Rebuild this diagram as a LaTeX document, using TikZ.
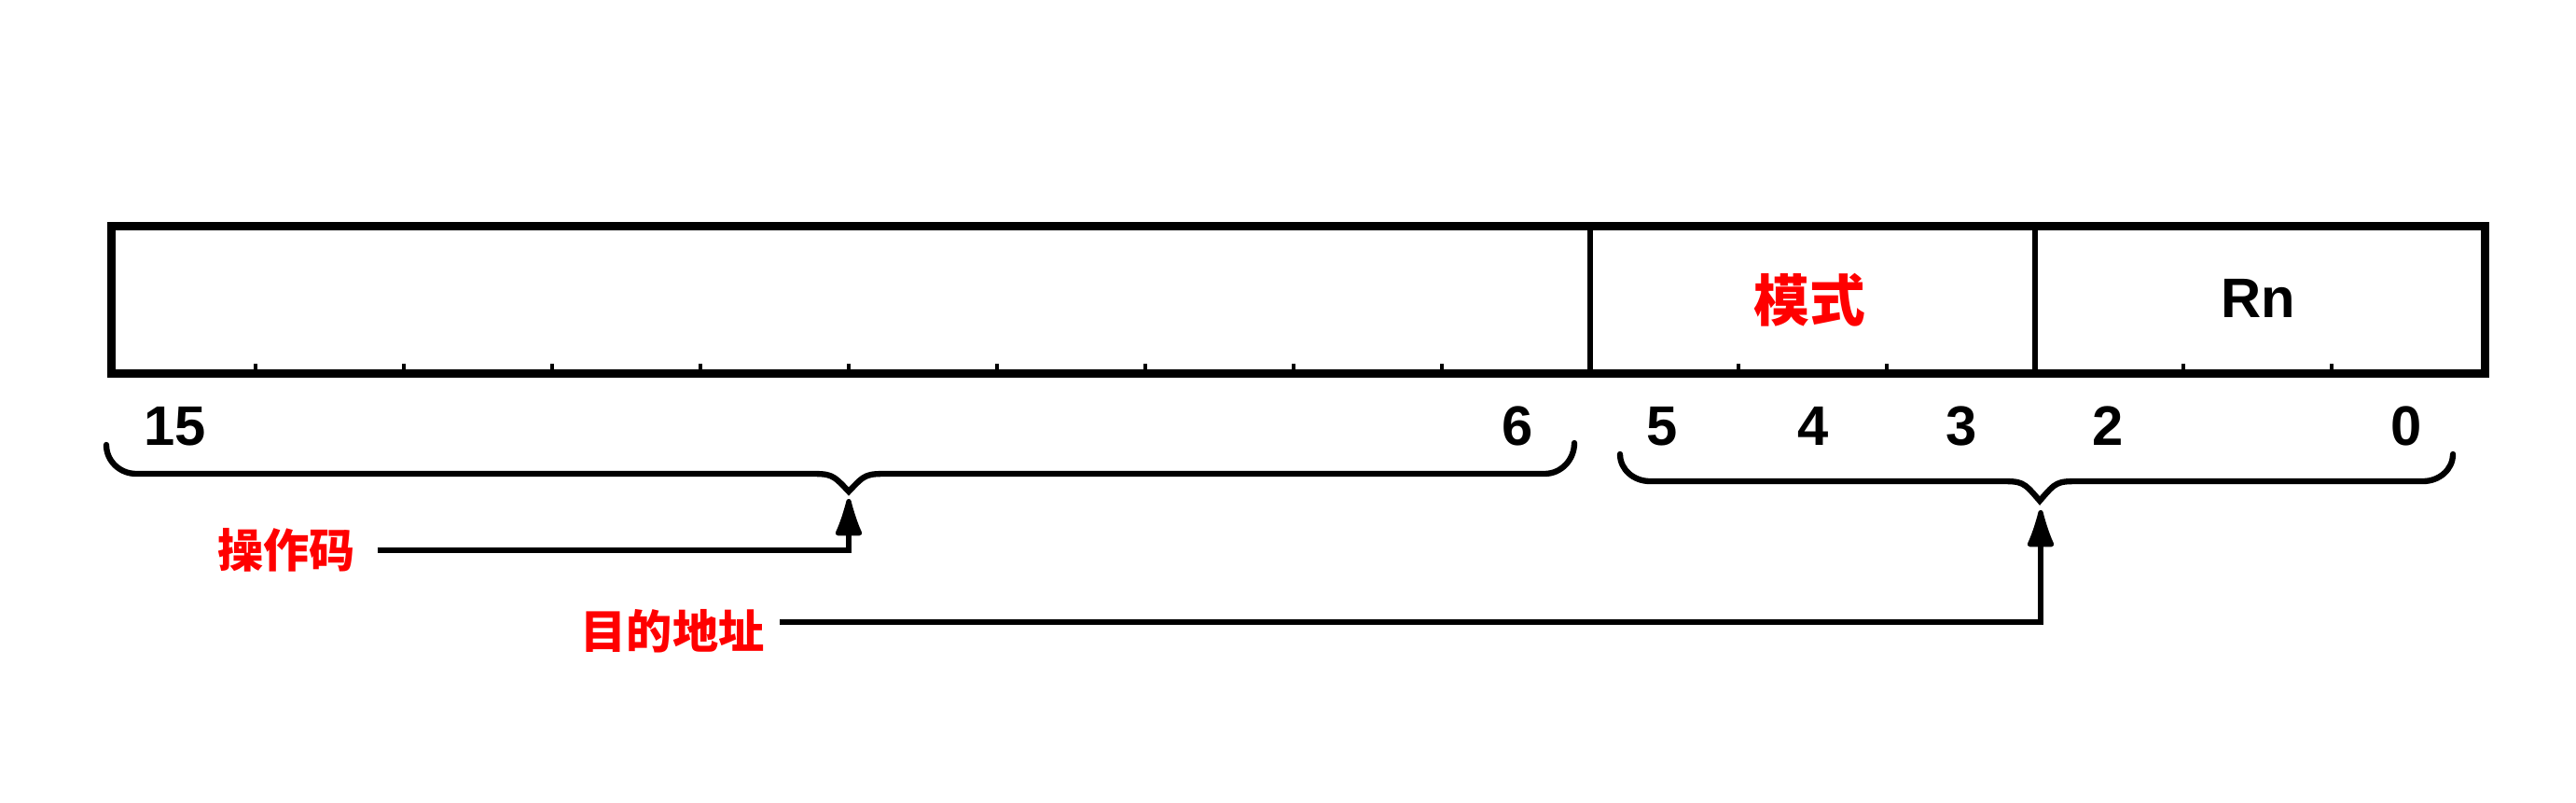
\documentclass[tikz,border=0pt]{standalone}
\usepackage{fontspec}
\setmainfont{Liberation Sans}
\newfontfamily\cjk{Noto Sans CJK SC}
\usepackage{tikz}
\usetikzlibrary{positioning,calc,arrows.meta}

\begin{document}
\begin{tikzpicture}[
	bitnum/.style={font=\bfseries\fontsize{17}{20}\selectfont, inner sep=0pt},
	cnlabel/.style={text=red, font=\cjk\bfseries\fontsize{14}{17}\selectfont, inner sep=0pt},
	link/.style={line width=1.5pt, -{Latex[length=14pt,width=9pt,round]}},
	brc/.style={line width=1.8pt, line cap=round}
]
	\useasboundingbox (0,0) rectangle (27.62,8.60);
	\node [draw, line width=2.6pt, anchor=south west, inner sep=0pt, minimum width=25.45cm, minimum height=1.58cm] (word) at (1.15,4.55) {};
	\draw [line width=1.5pt] (17.05,4.55) -- (17.05,6.13);
	\draw [line width=1.5pt] (21.82,4.55) -- (21.82,6.13);
	\foreach \k in {1,2,3,4,5,6,7,8,9,11,12,14,15}
		\draw [line width=1.3pt] (1.15+\k*1.59,4.55) -- ++(0,0.15);
	\node [text=red, font=\cjk\bfseries\fontsize{17}{20}\selectfont] (mode) at (19.40,5.38) {模式};
	\node [font=\bfseries\fontsize{17}{20}\selectfont] (reg) at (24.21,5.40) {Rn};
	\foreach \b/\x in {15/1.88, 6/16.27, 5/17.82, 4/19.44, 3/21.03, 2/22.60, 0/25.80}
		\node [bitnum] (b\b) at (\x,4.03) {\b};
	\draw [brc] (1.14,3.83) to[out=-90,in=180] (1.46,3.52) -- (8.65,3.52) .. controls (8.92,3.52) .. (9.10,3.33) .. controls (9.28,3.52) .. (9.55,3.52) -- (16.56,3.52) to[out=0,in=-90] (16.88,3.85);
	\draw [brc] (17.37,3.73) to[out=-90,in=180] (17.69,3.44) -- (21.42,3.44) .. controls (21.69,3.44) .. (21.87,3.23) .. controls (22.05,3.44) .. (22.32,3.44) -- (25.98,3.44) to[out=0,in=-90] (26.30,3.73);
	\coordinate (optip) at (9.10,3.25);
	\coordinate (dsttip) at (21.88,3.13);
	\node [cnlabel] (oplbl) at (3.07,2.70) {操作码};
	\node [cnlabel] (dstlbl) at (7.21,1.83) {目的地址};
	\draw [link] ([xshift=0.23cm]oplbl.east) -| (optip);
	\draw [link] ([xshift=0.16cm,yshift=0.10cm]dstlbl.east) -| (dsttip);
\end{tikzpicture}
\end{document}
